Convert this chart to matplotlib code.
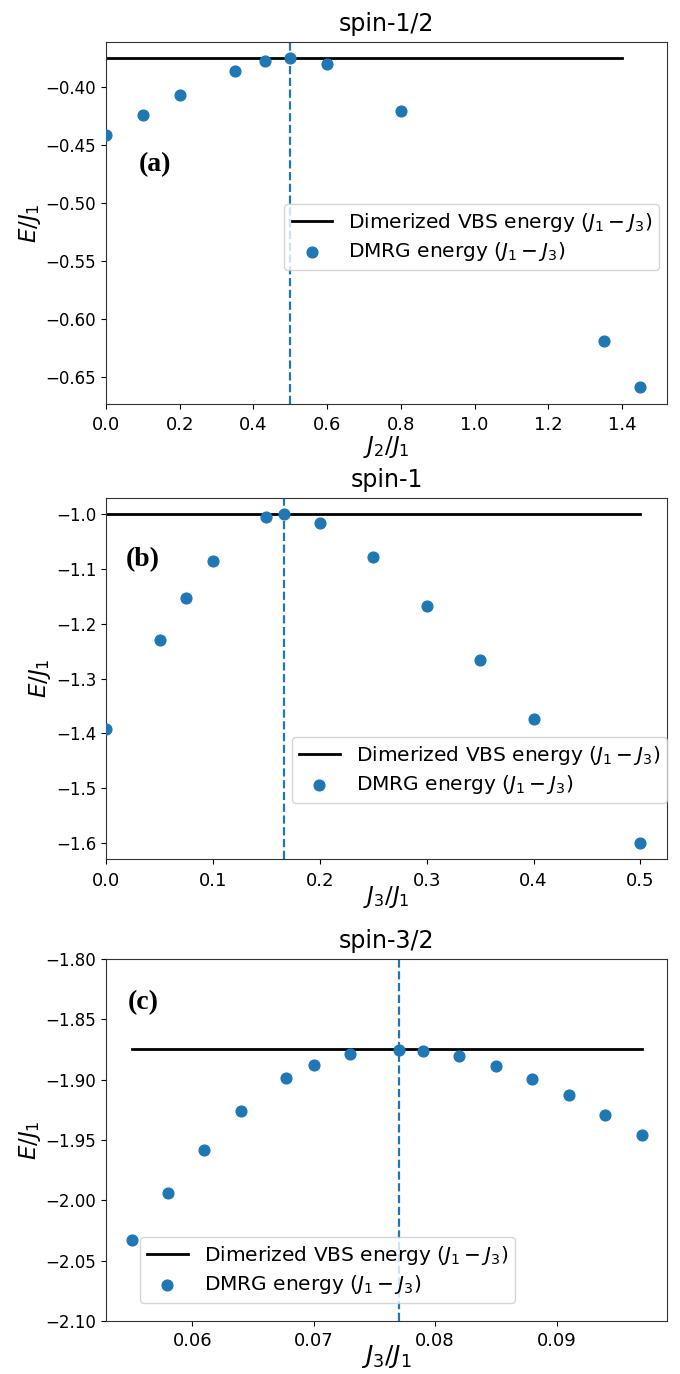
import numpy as np
import matplotlib
matplotlib.use('Agg')
import matplotlib.pyplot as plt

# spin-1/2 : J1-J2 chain
x_a = [0.0, 0.1, 0.2, 0.35, 0.43, 0.5, 0.6, 0.8, 1.35, 1.45]
e_a = [-0.441, -0.424, -0.407, -0.3855, -0.3775, -0.375, -0.380, -0.4205, -0.619, -0.6595]
vbs_a_x = [0.0, 1.4]
vbs_a = -0.375
crit_a = 0.5

# spin-1 : J1-J3 chain
x_b = [0.0, 0.05, 0.075, 0.1, 0.15, 1/6, 0.2, 0.25, 0.3, 0.35, 0.4, 0.5]
e_b = [-1.392, -1.229, -1.153, -1.0845, -1.005, -1.0, -1.015, -1.078, -1.1665, -1.266, -1.374, -1.6]
vbs_b_x = [0.0, 0.5]
vbs_b = -1.0
crit_b = 1/6

# spin-3/2 : J1-J3 chain
x_c = [0.055, 0.058, 0.061, 0.064, 0.0677, 0.070, 0.073, 0.077, 0.079,
       0.082, 0.085, 0.088, 0.091, 0.094, 0.097]
e_c = [-2.0326, -1.9943, -1.958, -1.926, -1.899, -1.888, -1.879, -1.8756, -1.8762,
       -1.8806, -1.889, -1.8996, -1.913, -1.929, -1.946]
vbs_c_x = [0.055, 0.097]
vbs_c = -1.875
crit_c = 0.077

fig = plt.figure(figsize=(6.8, 13.74), dpi=100)
ax1 = fig.add_axes([0.156, 0.706, 0.825, 0.2635])
ax2 = fig.add_axes([0.156, 0.3748, 0.825, 0.2627])
ax3 = fig.add_axes([0.156, 0.0386, 0.825, 0.2635])

# (axis, x, E, vbs x-range, vbs E, critical x, title, xlabel, tag, tag pos, xlabel size, xlabel y, xtick pad)
panels = [
    (ax1, x_a, e_a, vbs_a_x, vbs_a, crit_a, 'spin-1/2', r'$J_2/J_1$', '(a)', (0.087, 0.66), 16.5, -0.082, 5.5),
    (ax2, x_b, e_b, vbs_b_x, vbs_b, crit_b, 'spin-1', r'$J_3/J_1$', '(b)', (0.066, 0.83), 16.5, -0.068, 5.5),
    (ax3, x_c, e_c, vbs_c_x, vbs_c, crit_c, 'spin-3/2', r'$J_3/J_1$', '(c)', (0.066, 0.88), 18, -0.062, 4.5),
]

for ax, xs, es, lx, ly, xc, title, xlab, tag, tagpos, xfs, xly, xpad in panels:
    ax.plot(lx, [ly, ly], color='black', lw=2, label=r'Dimerized VBS energy $(J_1-J_3)$')
    ax.scatter(xs, es, s=60, color='#1f77b4', zorder=3, label=r'DMRG energy $(J_1-J_3)$')
    ax.axvline(xc, color='#1f77b4', ls='--', lw=1.6)
    ax.set_title(title, fontsize=17, pad=8)
    ax.set_xlabel(xlab, fontsize=xfs)
    ax.xaxis.set_label_coords(0.5, xly)
    ax.set_ylabel(r'$E/J_1$', fontsize=16.5, labelpad=2)
    ax.tick_params(axis='y', labelsize=12)
    ax.tick_params(axis='x', labelsize=13, pad=xpad)
    for sp in ax.spines.values():
        sp.set_edgecolor('#333333')
    ax.text(tagpos[0], tagpos[1], tag, transform=ax.transAxes, ha='center', va='center',
            fontsize=20, fontweight='bold', family='Liberation Serif')

ax1.set_xlim(0, None)
ax2.set_xlim(0, None)
ax3.set_ylim(-2.10, -1.80)
ax3.set_yticks([-2.10, -2.05, -2.00, -1.95, -1.90, -1.85, -1.80])
ax3.set_xticks([0.06, 0.07, 0.08, 0.09])

leg_kw = dict(borderaxespad=0, fontsize=14.5, labelspacing=0.3, borderpad=0.35)
ax1.legend(loc='upper right', bbox_to_anchor=(0.986, 0.552), **leg_kw)
ax2.legend(loc='upper right', bbox_to_anchor=(1.0, 0.338), **leg_kw)
ax3.legend(loc='lower left', bbox_to_anchor=(0.061, 0.05), **leg_kw)

fig.savefig('out.png', dpi=100)
